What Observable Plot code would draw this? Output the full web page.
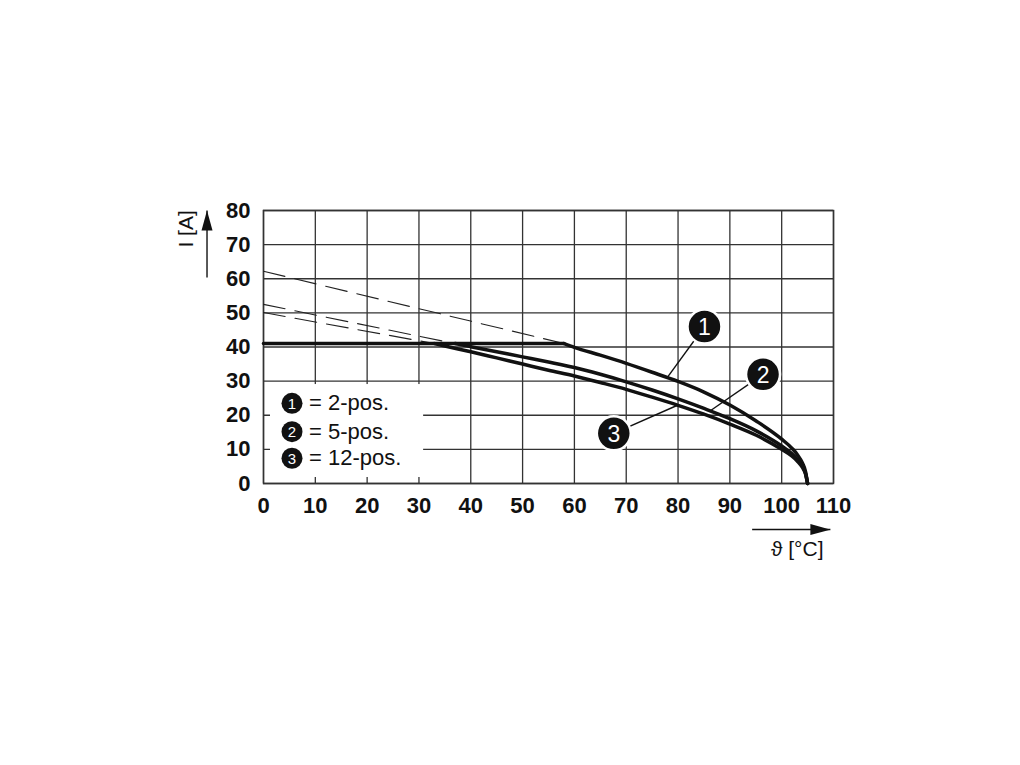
<!DOCTYPE html>
<html><head><meta charset="utf-8">
<script src="https://cdn.jsdelivr.net/npm/d3@7"></script>
<script src="https://cdn.jsdelivr.net/npm/@observablehq/plot@0.6"></script>
<style>body{margin:0;background:#fff}</style>
</head><body><div id="chart"></div>
<script>
const xTicks = [0, 10, 20, 30, 40, 50, 60, 70, 80, 90, 100, 110];
const yTicks = [0, 10, 20, 30, 40, 50, 60, 70, 80];
const xLabel = "ϑ [°C]";
const yLabel = "I [A]";

// flat (common) section of the derating curves
const flatSection = [{t: 0, i: 41}, {t: 58, i: 41}];

// dashed (theoretical) continuations
const dashed1 = [{t: 0, i: 62.2}, {t: 58, i: 41}];
const dashed2 = [{t: 0, i: 52.5}, {t: 37, i: 41}];
const dashed3 = [{t: 0, i: 50.1}, {t: 33, i: 41}];

// solid derating curves
const curve1 = [
  {t: 58, i: 41}, {t: 60, i: 39.9}, {t: 65, i: 37.6}, {t: 70, i: 35.2}, {t: 75, i: 32.6},
  {t: 80, i: 29.9}, {t: 85, i: 26.8}, {t: 90, i: 23.0}, {t: 95, i: 18.4}, {t: 100, i: 13.0},
  {t: 102, i: 10.3}, {t: 103, i: 8.5}, {t: 104, i: 6.0}, {t: 104.6, i: 3.5}, {t: 105, i: 0}
];
const curve2 = [
  {t: 37, i: 41}, {t: 40, i: 40.1}, {t: 45, i: 38.6}, {t: 50, i: 37.1}, {t: 55, i: 35.6},
  {t: 60, i: 34.0}, {t: 65, i: 32.0}, {t: 70, i: 29.8}, {t: 75, i: 27.4}, {t: 80, i: 24.8},
  {t: 85, i: 22.0}, {t: 90, i: 19.0}, {t: 95, i: 15.5}, {t: 100, i: 11.0}, {t: 102, i: 8.7},
  {t: 103, i: 7.1}, {t: 104, i: 5.1}, {t: 104.6, i: 3.0}, {t: 105, i: 0}
];
const curve3 = [
  {t: 33, i: 41}, {t: 35, i: 40.3}, {t: 40, i: 38.6}, {t: 45, i: 36.8}, {t: 50, i: 35.0},
  {t: 55, i: 33.2}, {t: 60, i: 31.5}, {t: 65, i: 29.6}, {t: 70, i: 27.6}, {t: 75, i: 25.3},
  {t: 80, i: 22.9}, {t: 85, i: 20.3}, {t: 90, i: 17.4}, {t: 95, i: 14.2}, {t: 100, i: 10.0},
  {t: 102, i: 8.0}, {t: 103, i: 6.6}, {t: 104, i: 4.7}, {t: 104.6, i: 2.8}, {t: 105, i: 0}
];

// callouts: badge position and the point on the curve it points to
const callouts = [
  {n: "1", t: 85.1, i: 46.0, ct: 77.8, ci: 30.8},
  {n: "2", t: 96.4, i: 32.0, ct: 86.3, ci: 21.4},
  {n: "3", t: 67.6, i: 14.7, ct: 80.0, ci: 23.0}
];

// legend
const legendBox = [{x1: 1.35, x2: 30.9, y1: 1.76, y2: 29.0}];
const legendItems = [
  {n: "1", text: "= 2-pos.", t: 5.5, i: 23.5},
  {n: "2", text: "= 5-pos.", t: 5.5, i: 15.2},
  {n: "3", text: "= 12-pos.", t: 5.5, i: 7.4}
];

// axis arrows and labels (placed outside the frame, in data units)
const axisArrows = [
  {x1: -10.9, y1: 60.4, x2: -10.9, y2: 80.0},
  {x1: 94.3, y1: -13.5, x2: 109.4, y2: -13.5}
];
const axisLabels = [
  {text: yLabel, t: -14.9, i: 74.6, rotate: -90},
  {text: xLabel, t: 103.0, i: -19.4, rotate: 0}
];

function arrowHead(color) {
  const m = d3.create("svg:marker")
    .attr("viewBox", "0 -6 20 12")
    .attr("refX", 20).attr("refY", 0)
    .attr("markerWidth", 20).attr("markerHeight", 12)
    .attr("markerUnits", "userSpaceOnUse")
    .attr("orient", "auto");
  m.append("path").attr("d", "M0,-5.5L20,0L0,5.5Z").attr("fill", color).attr("stroke", "none");
  return m.node();
}

const FONT = "'Liberation Sans', Arial, Helvetica, sans-serif";
const ink = "#111";

const chart = Plot.plot({
  width: 1020,
  height: 765,
  marginLeft: 263,
  marginRight: 187,
  marginTop: 210,
  marginBottom: 282,
  style: {fontFamily: FONT, background: "#fff", overflow: "visible"},
  x: {domain: [0, 110], ticks: xTicks},
  y: {domain: [0, 80], ticks: yTicks},
  marks: [
    Plot.gridX(xTicks, {stroke: "#333", strokeOpacity: 1, strokeWidth: 1.3}),
    Plot.gridY(yTicks, {stroke: "#333", strokeOpacity: 1, strokeWidth: 1.3}),
    Plot.rect(legendBox, {x1: "x1", x2: "x2", y1: "y1", y2: "y2", fill: "#fff"}),
    Plot.frame({stroke: "#333", strokeWidth: 1.5}),
    Plot.axisX({ticks: xTicks, tickSize: 0, tickPadding: 14, fontSize: 22, fontWeight: "bold", fill: ink, label: null}),
    Plot.axisY({ticks: yTicks, tickSize: 0, tickPadding: 13, fontSize: 22, fontWeight: "bold", fill: ink, label: null}),
    Plot.line(dashed1, {x: "t", y: "i", stroke: "#222", strokeWidth: 1.1, strokeDasharray: "22,10"}),
    Plot.line(dashed2, {x: "t", y: "i", stroke: "#222", strokeWidth: 1.1, strokeDasharray: "22,10"}),
    Plot.line(dashed3, {x: "t", y: "i", stroke: "#222", strokeWidth: 1.1, strokeDasharray: "22,10"}),
    Plot.line(flatSection, {x: "t", y: "i", stroke: ink, strokeWidth: 3.5}),
    Plot.line(curve1, {x: "t", y: "i", stroke: ink, strokeWidth: 3.5, curve: "monotone-x"}),
    Plot.line(curve2, {x: "t", y: "i", stroke: ink, strokeWidth: 3.5, curve: "monotone-x"}),
    Plot.line(curve3, {x: "t", y: "i", stroke: ink, strokeWidth: 3.5, curve: "monotone-x"}),
    Plot.link(callouts, {x1: "t", y1: "i", x2: "ct", y2: "ci", stroke: ink, strokeWidth: 1.4}),
    Plot.dot(callouts, {x: "t", y: "i", r: 17, fill: ink, stroke: "#fff", strokeWidth: 2.5}),
    Plot.text(callouts, {x: "t", y: "i", text: "n", fill: "#fff", fontSize: 23, dy: 1}),
    Plot.dot(legendItems, {x: "t", y: "i", r: 10.5, fill: ink}),
    Plot.text(legendItems, {x: "t", y: "i", text: "n", fill: "#fff", fontSize: 15, dy: 0.5}),
    Plot.text(legendItems, {x: "t", y: "i", text: "text", fill: ink, fontSize: 22, textAnchor: "start", dx: 17}),
    Plot.link(axisArrows, {x1: "x1", y1: "y1", x2: "x2", y2: "y2", stroke: ink, strokeWidth: 1.4, markerEnd: arrowHead}),
    Plot.text(axisLabels, {x: "t", y: "i", text: "text", rotate: "rotate", fill: ink, fontSize: 21})
  ]
});
document.getElementById("chart").appendChild(chart);
</script>
</body></html>
